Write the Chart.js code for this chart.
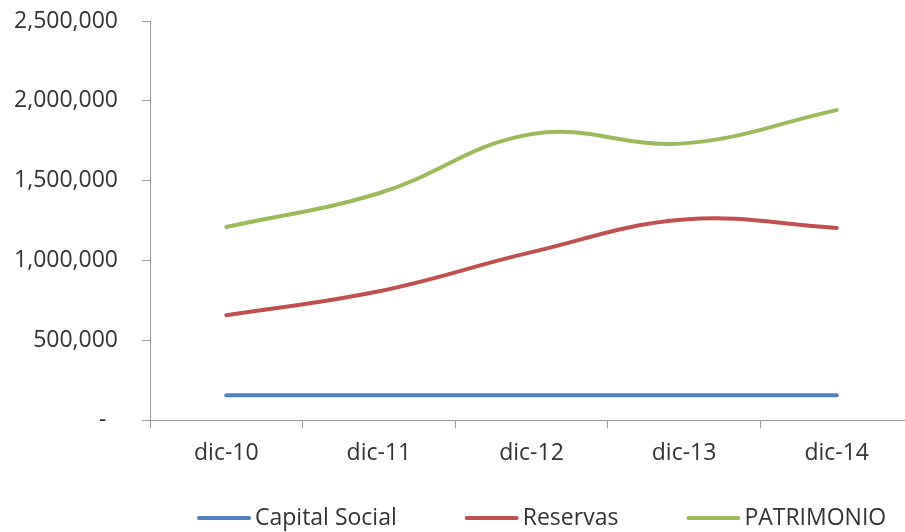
<!DOCTYPE html>
<html>
<head>
<meta charset="utf-8">
<script src="https://cdn.jsdelivr.net/npm/chart.js@4/dist/chart.umd.min.js"></script>
<style>
  html, body { margin: 0; padding: 0; background: #fff; overflow: hidden; }
  #wrap { width: 905px; height: 532px; overflow: hidden; }
</style>
</head>
<body>
<div id="wrap"><canvas id="c" width="916" height="532"></canvas></div>
<script>
const categories = ['dic-10', 'dic-11', 'dic-12', 'dic-13', 'dic-14'];
const capitalSocial = [157000, 157000, 157000, 157000, 157000];
const reservas = [658000, 808000, 1053000, 1257000, 1205000];
const patrimonio = [1211000, 1422000, 1792000, 1734000, 1942000];
const yTicks = [0, 500000, 1000000, 1500000, 2000000, 2500000];

const textColor = '#333333';
const axisColor = '#9a9a9a';
const fontFamily = '"Open Sans", sans-serif';

// Custom legend drawn on the canvas (Excel-like placement)
const excelLegend = {
  id: 'excelLegend',
  afterDraw(chart) {
    const ctx = chart.ctx;
    const startX = 197, cy = 518, lineLen = 54, textGap = 4, itemGap = 68;
    ctx.save();
    ctx.font = '23px ' + fontFamily;
    ctx.textBaseline = 'middle';
    ctx.textAlign = 'left';
    let x = startX;
    chart.data.datasets.forEach(ds => {
      ctx.strokeStyle = ds.borderColor;
      ctx.lineWidth = 4;
      ctx.lineCap = 'round';
      ctx.beginPath();
      ctx.moveTo(x + 2, cy);
      ctx.lineTo(x + lineLen - 2, cy);
      ctx.stroke();
      ctx.fillStyle = textColor;
      const tx = x + lineLen + textGap;
      ctx.fillText(ds.label, tx, cy);
      x = tx + ctx.measureText(ds.label).width + itemGap;
    });
    ctx.restore();
  }
};

new Chart(document.getElementById('c'), {
  type: 'line',
  data: {
    labels: categories,
    datasets: [
      { label: 'Capital Social', data: capitalSocial, borderColor: '#4F81BD', backgroundColor: '#4F81BD' },
      { label: 'Reservas', data: reservas, borderColor: '#C0504D', backgroundColor: '#C0504D' },
      { label: 'PATRIMONIO', data: patrimonio, borderColor: '#9BBB59', backgroundColor: '#9BBB59' }
    ]
  },
  plugins: [excelLegend],
  options: {
    responsive: false,
    animation: false,
    devicePixelRatio: 1,
    layout: { padding: { top: 21, right: 3, left: 0, bottom: 54 } },
    elements: {
      line: { borderWidth: 4, tension: 0.4, borderCapStyle: 'round', fill: false },
      point: { radius: 0, hoverRadius: 0 }
    },
    plugins: {
      legend: { display: false },
      tooltip: { enabled: false }
    },
    scales: {
      x: {
        offset: true,
        grid: { display: true, drawOnChartArea: false, drawTicks: true, tickLength: 8, offset: true, color: axisColor },
        border: { display: true, color: axisColor, width: 1 },
        ticks: { color: textColor, font: { family: fontFamily, size: 23 }, padding: 11, maxRotation: 0 }
      },
      y: {
        min: yTicks[0],
        max: yTicks[yTicks.length - 1],
        afterBuildTicks: (scale) => { scale.ticks = yTicks.map(v => ({ value: v })); },
        afterFit: (scale) => { scale.width = 150; scale.paddingTop = 0; scale.paddingBottom = 0; },
        grid: { display: true, drawOnChartArea: false, drawTicks: true, tickLength: 8, color: axisColor },
        border: { display: true, color: axisColor, width: 1 },
        ticks: {
          color: textColor,
          font: { family: fontFamily, size: 23 },
          padding: 24,
          callback: (v) => v === 0 ? '-\u2002' : Number(v).toLocaleString('en-US')
        }
      }
    }
  }
});
</script>
</body>
</html>
